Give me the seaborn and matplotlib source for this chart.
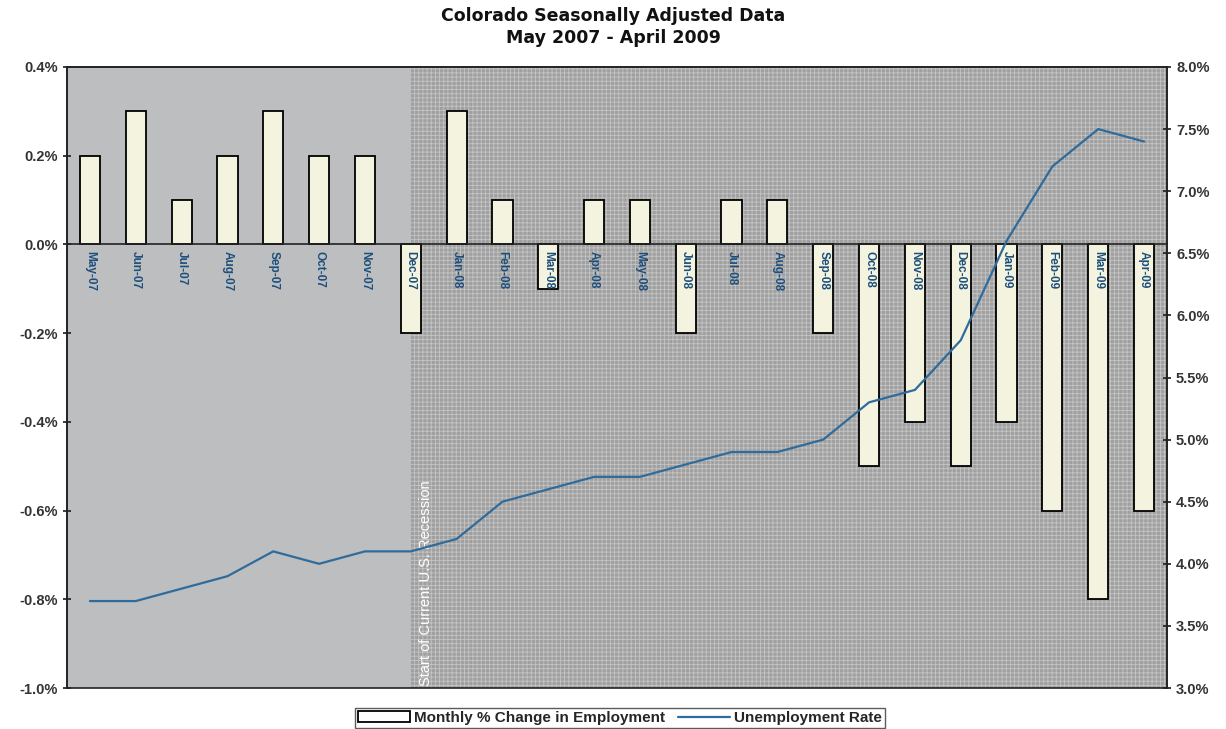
import numpy as np
import pandas as pd
import matplotlib
matplotlib.use("Agg")
import matplotlib.pyplot as plt
import matplotlib.ticker as mticker
from matplotlib.patches import Patch
from matplotlib.lines import Line2D
import seaborn as sns

months = ["May-07", "Jun-07", "Jul-07", "Aug-07", "Sep-07", "Oct-07", "Nov-07", "Dec-07",
          "Jan-08", "Feb-08", "Mar-08", "Apr-08", "May-08", "Jun-08", "Jul-08", "Aug-08",
          "Sep-08", "Oct-08", "Nov-08", "Dec-08", "Jan-09", "Feb-09", "Mar-09", "Apr-09"]
employment_change = [0.2, 0.3, 0.1, 0.2, 0.3, 0.2, 0.2, -0.2,
                     0.3, 0.1, -0.1, 0.1, 0.1, -0.2, 0.1, 0.1,
                     -0.2, -0.5, -0.4, -0.5, -0.4, -0.6, -0.8, -0.6]
unemployment_rate = [3.7, 3.7, 3.8, 3.9, 4.1, 4.0, 4.1, 4.1,
                     4.2, 4.5, 4.6, 4.7, 4.7, 4.8, 4.9, 4.9,
                     5.0, 5.3, 5.4, 5.8, 6.6, 7.2, 7.5, 7.4]
left_ticks = [-1.0, -0.8, -0.6, -0.4, -0.2, 0.0, 0.2, 0.4]
right_ticks = [3.0, 3.5, 4.0, 4.5, 5.0, 5.5, 6.0, 6.5, 7.0, 7.5, 8.0]
recession_start = "Dec-07"

sns.set_theme(style="white")
plt.rcParams["font.family"] = ["Liberation Sans", "DejaVu Sans"]
plt.rcParams["hatch.linewidth"] = 0.6

df = pd.DataFrame({"month": months,
                   "change": employment_change,
                   "rate": unemployment_rate,
                   "pos": np.arange(len(months))})

fig = plt.figure(figsize=(12.26, 7.29), dpi=100)
ax = fig.add_axes([67 / 1226, 41 / 729, 1100 / 1226, 621 / 729])
ax.set_facecolor("#bcbec0")

start = months.index(recession_start)
ax.axvspan(start, len(months) - 0.5, facecolor="#a0a0a0", edgecolor="#c4c4c4",
           hatch="++++", lw=0, zorder=0)

sns.barplot(data=df, x="month", y="change", ax=ax, width=0.44,
            color="#f4f3df", edgecolor="black", linewidth=1.3, saturation=1,
            zorder=2)

ax.set_xlim(-0.5, len(months) - 0.5)
ax.set_ylim(left_ticks[0], left_ticks[-1])
ax.set_yticks(left_ticks)
ax.yaxis.set_major_formatter(mticker.FuncFormatter(lambda v, p: f"{v:.1f}%"))
ax.set_xlabel("")
ax.set_ylabel("")
ax.set_axisbelow(False)

# category axis crosses at zero
ax.spines["bottom"].set_position(("data", 0))
ax.spines["top"].set_visible(True)
for s in ax.spines.values():
    s.set_color("#222222")
    s.set_linewidth(1.2)
ax.set_xticks(np.arange(len(months)))
ax.set_xticklabels(months, rotation=270, fontsize=8.5, color="#1d4f7c")
for lbl in ax.get_xticklabels():
    lbl.set_fontweight("bold")
ax.set_xticks(np.arange(len(months) + 1) - 0.5, minor=True)
ax.tick_params(axis="x", which="major", length=0, pad=5)
ax.tick_params(axis="x", which="minor", length=5, direction="inout", color="#222222")
ax.tick_params(axis="y", length=6, direction="inout", color="#222222",
               labelsize=10.5, labelcolor="#333333", left=True)
for lbl in ax.get_yticklabels():
    lbl.set_fontweight("bold")

ax.text(start + 0.33, left_ticks[0] + 0.004, "Start of Current U.S. Recession",
        rotation=90, color="white", fontsize=10.5, ha="center", va="bottom", zorder=3)

ax2 = ax.twinx()
sns.lineplot(data=df, x="pos", y="rate", ax=ax2, color="#2f6b9b", linewidth=1.6)
ax2.set_ylim(right_ticks[0], right_ticks[-1])
ax2.set_yticks(right_ticks)
ax2.yaxis.set_major_formatter(mticker.FuncFormatter(lambda v, p: f"{v:.1f}%"))
ax2.set_ylabel("")
ax2.set_xlabel("")
ax2.set_xlim(-0.5, len(months) - 0.5)
for s in ax2.spines.values():
    s.set_color("#222222")
    s.set_linewidth(1.2)
ax2.tick_params(axis="y", length=6, direction="inout", color="#222222",
                labelsize=10.5, labelcolor="#333333", right=True)
for lbl in ax2.get_yticklabels():
    lbl.set_fontweight("bold")

title_font = {"family": ["DejaVu Sans"], "weight": "bold", "size": 12.5}
fig.text(0.5, 1 - 16 / 729, "Colorado Seasonally Adjusted Data", ha="center",
         va="center", color="#111111", fontdict=title_font)
fig.text(0.5, 1 - 38 / 729, "May 2007 - April 2009", ha="center",
         va="center", color="#111111", fontdict=title_font)

handles = [Patch(facecolor="white", edgecolor="black", linewidth=1.3),
           Line2D([0], [0], color="#2f6b9b", linewidth=1.6)]
leg = fig.legend(handles, ["Monthly % Change in Employment", "Unemployment Rate"],
                 loc="center", bbox_to_anchor=(620 / 1226, 1 - 718 / 729), ncol=2,
                 frameon=True, fancybox=False, handlelength=3.4,
                 handleheight=0.7, handletextpad=0.3, columnspacing=0.8,
                 borderpad=0.2, prop={"weight": "bold", "size": 11})
leg.get_frame().set_edgecolor("#333333")
leg.get_frame().set_linewidth(1.0)

fig.savefig("out.png", dpi=100)
